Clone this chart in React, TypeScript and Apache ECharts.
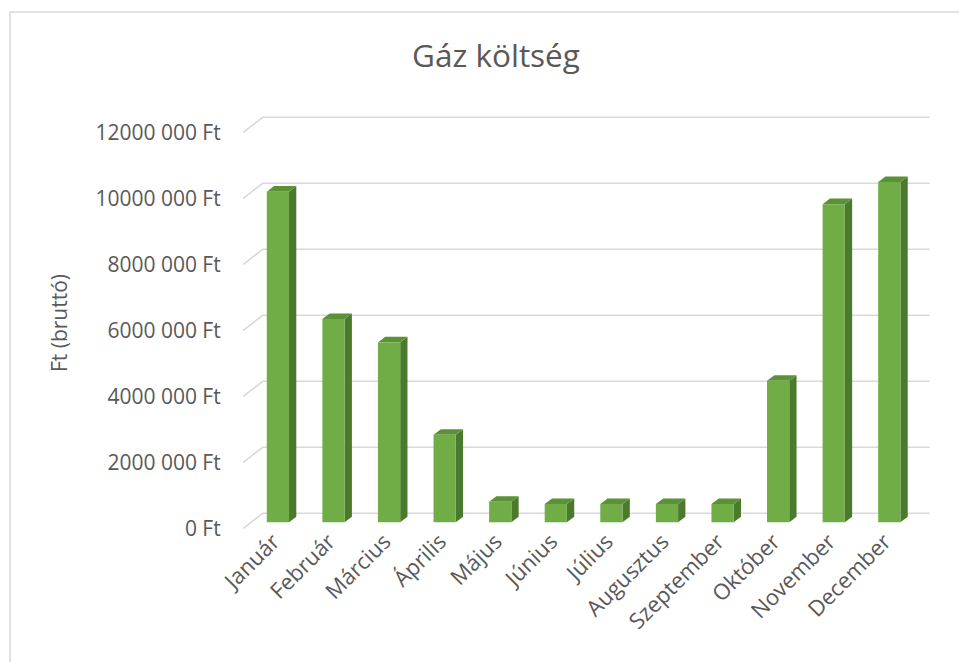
import React, { useEffect, useRef } from "react";
import * as echarts from "echarts";

const categories = ["Január", "Február", "Március", "Április", "Május", "Június", "Július", "Augusztus", "Szeptember", "Október", "November", "December"];
const values = [10020000, 6160000, 5450000, 2650000, 620000, 555000, 555000, 555000, 555000, 4290000, 9640000, 10310000];
const yTicks = [0, 2000000, 4000000, 6000000, 8000000, 10000000, 12000000];
const title = "Gáz költség";
const yName = "Ft (bruttó)";

const FONT = "'Open Sans', 'Noto Sans', sans-serif";
const TXT = "#595959";
// 3D projection offsets (pixels)
const WALL_DX = 19.4, WALL_DY = -15;
const BAR_FX = 6.8, BAR_FY = -6;
const BAR_DX = 7.3, BAR_DY = -5.6;

function fmt(v: number) {
  if (v === 0) return "0 Ft";
  return `${v / 1000} 000 Ft`;
}

export default function App() {
  const ref = useRef<HTMLDivElement>(null);
  useEffect(() => {
    const chart = echarts.init(ref.current!, undefined, { renderer: "svg" });
    chart.setOption({
      animation: false,
      backgroundColor: "#ffffff",
      title: {
        text: title,
        left: 491,
        top: 33,
        textAlign: "center",
        textStyle: { fontFamily: FONT, fontSize: 31.5, fontWeight: "normal", color: TXT },
      },
      grid: { left: 243.3, top: 132.3, width: 667, height: 396 },
      xAxis: {
        type: "category",
        data: categories,
        axisLine: { show: false },
        axisTick: { show: false },
        axisLabel: { rotate: 45, margin: 12, fontFamily: FONT, fontSize: 22, color: TXT, interval: 0, padding: [0, -5, 0, 0] },
      },
      yAxis: {
        type: "value",
        min: 0,
        max: 12000000,
        interval: 2000000,
        splitLine: { show: false },
        axisLine: { show: false },
        axisTick: { show: false },
        axisLabel: { margin: 22.6, fontFamily: FONT, fontSize: 21, color: TXT, formatter: (v: number) => fmt(v) },
      },
      graphic: [
        {
          type: "rect",
          shape: { x: 10, y: 12, width: 1000, height: 700 },
          style: { fill: "none", stroke: "#d9d9d9", lineWidth: 1.5 },
          silent: true,
        },
        {
          type: "text",
          x: 59,
          y: 323,
          rotation: Math.PI / 2,
          style: { text: yName, fontFamily: FONT, fontSize: 21, fill: TXT, align: "center", verticalAlign: "middle" },
        },
      ],
      series: [
        {
          type: "custom",
          name: "wall",
          silent: true,
          data: yTicks.map((v) => [0, v]),
          encode: { x: 0, y: 1 },
          z: 1,
          renderItem: (params: any, api: any) => {
            const cs = params.coordSys;
            const y = api.coord([0, api.value(1)])[1];
            const left = cs.x;
            const right = cs.x + cs.width;
            return {
              type: "polyline",
              shape: {
                points: [
                  [left, y],
                  [left + WALL_DX, y + WALL_DY],
                  [right + WALL_DX, y + WALL_DY],
                ],
              },
              style: { stroke: "#d9d9d9", lineWidth: 1.6, fill: "none" },
            };
          },
        },
        {
          type: "custom",
          name: "Gáz költség",
          data: values.map((v, i) => [i, v]),
          encode: { x: 0, y: 1 },
          z: 2,
          renderItem: (params: any, api: any) => {
            const idx = api.value(0);
            const val = api.value(1);
            const top = api.coord([idx, val]);
            const base = api.coord([idx, 0]);
            const band = api.size([1, 0])[0];
            const w = band * 0.4;
            const xl = top[0] + BAR_FX - w / 2;
            const xr = xl + w;
            const yt = top[1] + BAR_FY;
            const yb = base[1] + BAR_FY;
            return {
              type: "group",
              children: [
                {
                  type: "polygon",
                  shape: { points: [[xr, yt], [xr + BAR_DX, yt + BAR_DY], [xr + BAR_DX, yb + BAR_DY], [xr, yb]] },
                  style: { fill: "#4b7a2c" },
                },
                {
                  type: "polygon",
                  shape: { points: [[xl, yt], [xl + BAR_DX, yt + BAR_DY], [xr + BAR_DX, yt + BAR_DY], [xr, yt]] },
                  style: { fill: "#5b9237" },
                },
                {
                  type: "rect",
                  shape: { x: xl, y: yt, width: w, height: yb - yt },
                  style: { fill: "#70ad47" },
                },
              ],
            };
          },
        },
      ],
    });
    return () => chart.dispose();
  }, []);
  return <div ref={ref} style={{ position: "fixed", left: 0, top: 0, width: 959, height: 662 }} />;
}
